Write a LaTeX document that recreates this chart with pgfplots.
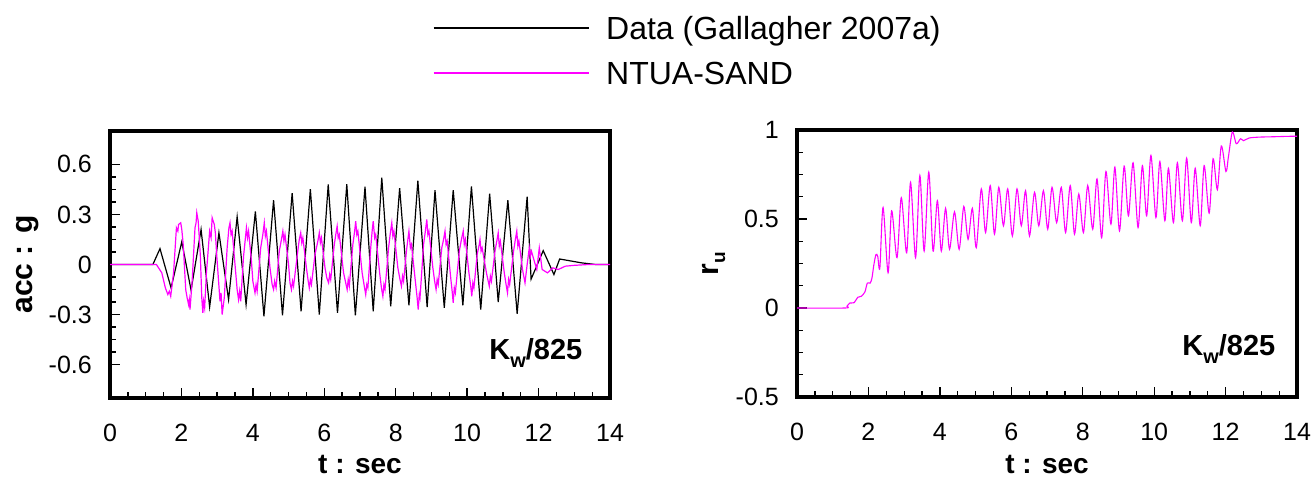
\documentclass[border=0pt]{standalone}
\usepackage{fontspec}
\setmainfont{Liberation Sans}
\usepackage{pgfplots}
\pgfplotsset{compat=1.18}
\definecolor{mag}{RGB}{255,0,255}
\pgfplotsset{
  base/.style={
    scale only axis, width=500pt, height=267pt, anchor=south west,
    xmin=0, xmax=14, xtick={0,2,4,6,8,10,12,14},
    xticklabels={0,2,4,6,8,10,12,14},
    minor x tick num=3, minor y tick num=3,
    tick align=inside, tick pos=left,
    major tick length=10pt, minor tick length=6pt,
    tick style={black, line width=1.3pt},
    axis line style={line width=4.5pt},
    /pgf/number format/assume math mode=true,
    every tick label/.append style={font=\fontsize{25}{25}\selectfont, inner sep=0pt, text=black},
    xticklabel style={anchor=base, yshift=-43pt},
    yticklabel style={anchor=east, xshift=-18pt},
    xlabel={\bfseries t : sec},
    xlabel style={font=\fontsize{28}{28}\selectfont, anchor=base, inner sep=0pt},
    ylabel style={font=\fontsize{30}{30}\selectfont, anchor=base, inner sep=0pt},
    clip=true,
  }
}
\begin{document}
\begin{tikzpicture}
\path[use as bounding box] (0pt,0pt) rectangle (1314pt,477pt);
\begin{axis}[base, at={(110pt,79pt)},
  ymin=-0.8, ymax=0.8,
  ytick={-0.6,-0.3,0,0.3,0.6}, yticklabels={-0.6,-0.3,0,0.3,0.6},
  ylabel={\bfseries acc : g},
  xlabel style={at={(axis description cs:0.5,-0.281)}},
  ylabel style={at={(axis description cs:-0.155,0.5)}},
  legend style={at={(axis description cs:0.646,1.4476)}, anchor=north west,
    draw=none, fill=none, inner sep=0pt, outer sep=0pt, row sep=12pt, column sep=0pt,
    nodes={font=\fontsize{32}{32}\selectfont, inner sep=0pt, text height=28pt, text depth=5pt, anchor=west},
    cells={anchor=west}},
  legend cell align=left,
  legend image code/.code={\draw[#1] (0pt,0pt) -- (155pt,0pt); \path (172pt,0pt);},
]
\addplot[black, line width=1.2pt] coordinates {
(0,0) (1.20,0) (1.40,0.095) (1.71,-0.14) (2.01,0.136) (2.27,-0.154) (2.55,0.21)
(2.79,-0.254) (3.05,0.19) (3.32,-0.21) (3.56,0.286) (3.81,-0.24) (4.07,0.318)
(4.31,-0.31) (4.58,0.386) (4.83,-0.304) (5.10,0.428) (5.35,-0.28) (5.61,0.452)
(5.86,-0.30) (6.11,0.48) (6.37,-0.29) (6.63,0.481) (6.87,-0.305) (7.14,0.466)
(7.37,-0.28) (7.61,0.52) (7.86,-0.25) (8.11,0.458) (8.37,-0.245) (8.62,0.502)
(8.88,-0.255) (9.10,0.445) (9.36,-0.26) (9.61,0.446) (9.88,-0.245) (10.12,0.468)
(10.38,-0.27) (10.63,0.424) (10.87,-0.225) (11.14,0.385) (11.40,-0.295) (11.68,0.406)
(11.79,-0.088) (12.13,0.083) (12.43,-0.06) (12.59,0.033) (13.20,0.01) (13.6,0) (14,0)
};
\addlegendentry{Data (Gallagher 2007a)}
\addplot[mag, line width=1.2pt] coordinates {
(0,0) (1.30,0) (1.45,-0.05) (1.55,-0.14) (1.62,-0.18) (1.66,-0.16) (1.70,-0.19) (1.78,-0.05) (1.86,0.22) (1.90,0.20) (1.92,0.24)
(1.98,0.25) (2.01,0.21) (2.05,0.12) (2.12,-0.15) (2.16,-0.20) (2.20,-0.24) (2.22,-0.21) (2.24,-0.27) (2.30,-0.10) (2.38,0.22)
(2.41,0.25) (2.43,0.31) (2.47,0.26) (2.50,0.16) (2.53,0.05) (2.57,-0.20) (2.60,-0.29) (2.62,-0.22) (2.65,-0.26) (2.70,-0.05) (2.79,0.20)
(2.83,0.16) (2.86,0.28) (2.92,0.24) (2.95,0.19) (2.99,0.05) (3.08,-0.22) (3.11,-0.17) (3.14,-0.30) (3.20,-0.20) (3.28,0.10)
(3.33,0.22) (3.36,0.25) (3.39,0.18) (3.42,0.20) (3.52,-0.05) (3.56,-0.15) (3.60,-0.21) (3.63,-0.16) (3.66,-0.22) (3.74,0.05) (3.82,0.22)
(3.85,0.16) (3.88,0.20) (3.96,0.02) (4.00,-0.10) (4.06,-0.17) (4.09,-0.12) (4.12,-0.16) (4.22,0.10) (4.28,0.18) (4.32,0.25) (4.35,0.17) (4.38,0.20)
(4.48,-0.02) (4.54,-0.12) (4.58,-0.15) (4.61,-0.10) (4.65,-0.14) (4.74,0.08) (4.80,0.15) (4.84,0.20) (4.87,0.14) (4.90,0.18) (5.00,0.0)
(5.04,-0.11) (5.08,-0.15) (5.11,-0.10) (5.14,-0.13) (5.24,0.05) (5.30,0.15) (5.34,0.19) (5.37,0.13) (5.40,0.16) (5.50,-0.02) (5.55,-0.10) (5.58,-0.14)
(5.61,-0.09) (5.64,-0.12) (5.74,0.06) (5.82,0.14) (5.86,0.19) (5.89,0.13) (5.92,0.16) (6.02,-0.02) (6.07,-0.08) (6.12,-0.11) (6.15,-0.06) (6.18,-0.09)
(6.28,0.12) (6.33,0.19) (6.36,0.23) (6.39,0.16) (6.42,0.18) (6.54,-0.05) (6.60,-0.11) (6.64,-0.15) (6.67,-0.09) (6.70,-0.13) (6.80,0.12)
(6.85,0.20) (6.88,0.26) (6.91,0.18) (6.94,0.20) (7.06,-0.05) (7.12,-0.13) (7.16,-0.18) (7.19,-0.12) (7.22,-0.14) (7.30,0.10) (7.34,0.20) (7.37,0.26)
(7.41,0.16) (7.44,0.18) (7.55,-0.05) (7.60,-0.14) (7.64,-0.19) (7.67,-0.12) (7.70,-0.15) (7.80,0.10) (7.85,0.19) (7.89,0.25) (7.92,0.17) (7.95,0.20)
(8.06,-0.02) (8.12,-0.09) (8.16,-0.13) (8.19,-0.07) (8.22,-0.10) (8.30,0.08) (8.34,0.15) (8.37,0.20) (8.41,0.10) (8.44,0.12) (8.55,-0.10)
(8.60,-0.20) (8.63,-0.27) (8.66,-0.18) (8.68,-0.20) (8.78,0.12) (8.83,0.20) (8.87,0.27) (8.90,0.18) (8.93,0.20) (9.04,-0.02) (9.09,-0.10) (9.13,-0.15)
(9.16,-0.09) (9.19,-0.12) (9.29,0.10) (9.34,0.15) (9.38,0.20) (9.41,0.12) (9.44,0.14) (9.54,-0.08) (9.58,-0.16) (9.61,-0.23) (9.64,-0.14) (9.67,-0.17)
(9.78,0.08) (9.84,0.15) (9.89,0.20) (9.92,0.12) (9.95,0.15) (10.05,-0.05) (10.10,-0.13) (10.13,-0.19) (10.16,-0.11) (10.19,-0.14) (10.28,0.06)
(10.33,0.11) (10.36,0.15) (10.39,0.08) (10.42,0.10) (10.54,-0.05) (10.59,-0.10) (10.62,-0.13) (10.65,-0.07) (10.68,-0.10) (10.78,0.08) (10.83,0.14) (10.87,0.19)
(10.90,0.11) (10.93,0.14) (11.04,-0.05) (11.09,-0.12) (11.13,-0.17) (11.16,-0.09) (11.19,-0.12) (11.30,0.08) (11.35,0.15) (11.39,0.20) (11.42,0.11) (11.45,0.14)
(11.55,-0.03) (11.62,-0.11) (11.68,0.00) (11.74,0.10) (11.77,0.05) (11.80,0.08) (11.88,0.02) (11.95,-0.03)
(12.02,0.10) (12.10,-0.03) (12.25,-0.05) (12.40,-0.02) (12.55,-0.03) (12.75,-0.01)
(13.0,-0.005) (13.4,0) (14,0)
};
\addlegendentry{NTUA-SAND}
\node[anchor=base east, font=\fontsize{29}{29}\selectfont\bfseries, inner sep=0pt]
  at (rel axis cs:0.945,0.146) {K\raisebox{-8pt}{\fontsize{20}{20}\selectfont w}/825};
\end{axis}

\begin{axis}[base, at={(797pt,80pt)},
  ymin=-0.5, ymax=1,
  ytick={-0.5,0,0.5,1}, yticklabels={-0.5,0,0.5,1},
  ylabel={\bfseries r\raisebox{-7pt}{\fontsize{19}{19}\selectfont u}},
  xlabel style={at={(axis description cs:0.5,-0.286)}},
  ylabel style={at={(axis description cs:-0.158,0.5)}},
]
\addplot[mag, line width=1.1pt, smooth, tension=0.5] coordinates {
(0,0) (1.34,0) (1.40,0.01) (1.48,0.028) (1.60,0.03) (1.70,0.06) (1.80,0.066) (1.90,0.09)
(1.97,0.14) (2.05,0.14) (2.10,0.17) (2.15,0.24) (2.21,0.30) (2.26,0.29) (2.32,0.226)
(2.41,0.565) (2.55,0.198) (2.65,0.546) (2.80,0.283) (2.92,0.62) (3.07,0.31) (3.18,0.706)
(3.32,0.283) (3.44,0.744) (3.56,0.32) (3.69,0.763) (3.81,0.32) (3.93,0.603) (4.04,0.32)
(4.16,0.56) (4.27,0.33) (4.41,0.54) (4.54,0.33) (4.67,0.57) (4.79,0.386) (4.91,0.56)
(5.02,0.339) (5.16,0.669) (5.28,0.424) (5.41,0.688) (5.53,0.415) (5.65,0.678) (5.78,0.462)
(5.90,0.669) (6.03,0.405) (6.16,0.669) (6.28,0.462) (6.40,0.659) (6.51,0.405) (6.65,0.65)
(6.77,0.462) (6.90,0.659) (7.02,0.443) (7.14,0.678) (7.27,0.48) (7.40,0.678) (7.52,0.424)
(7.65,0.688) (7.77,0.415) (7.89,0.64) (8.02,0.424) (8.14,0.688) (8.28,0.443) (8.40,0.725)
(8.53,0.395) (8.65,0.767) (8.79,0.471) (8.90,0.791) (9.03,0.433) (9.16,0.797) (9.28,0.518)
(9.41,0.816) (9.55,0.452) (9.67,0.80) (9.79,0.518) (9.91,0.857) (10.05,0.508) (10.16,0.823)
(10.30,0.49) (10.40,0.785) (10.54,0.48) (10.65,0.816) (10.79,0.49) (10.91,0.842) (11.04,0.48)
(11.15,0.785) (11.29,0.462) (11.40,0.80) (11.54,0.533) (11.65,0.838) (11.77,0.665) (11.88,0.91)
(12.01,0.767) (12.08,0.85) (12.19,0.989) (12.30,0.923) (12.42,0.951) (12.50,0.94) (12.66,0.955)
(12.94,0.96) (13.33,0.962) (13.87,0.965) (14.0,0.965)
};
\node[anchor=base east, font=\fontsize{29}{29}\selectfont\bfseries, inner sep=0pt]
  at (rel axis cs:0.957,0.155) {K\raisebox{-8pt}{\fontsize{20}{20}\selectfont w}/825};
\end{axis}
\end{tikzpicture}
\end{document}
